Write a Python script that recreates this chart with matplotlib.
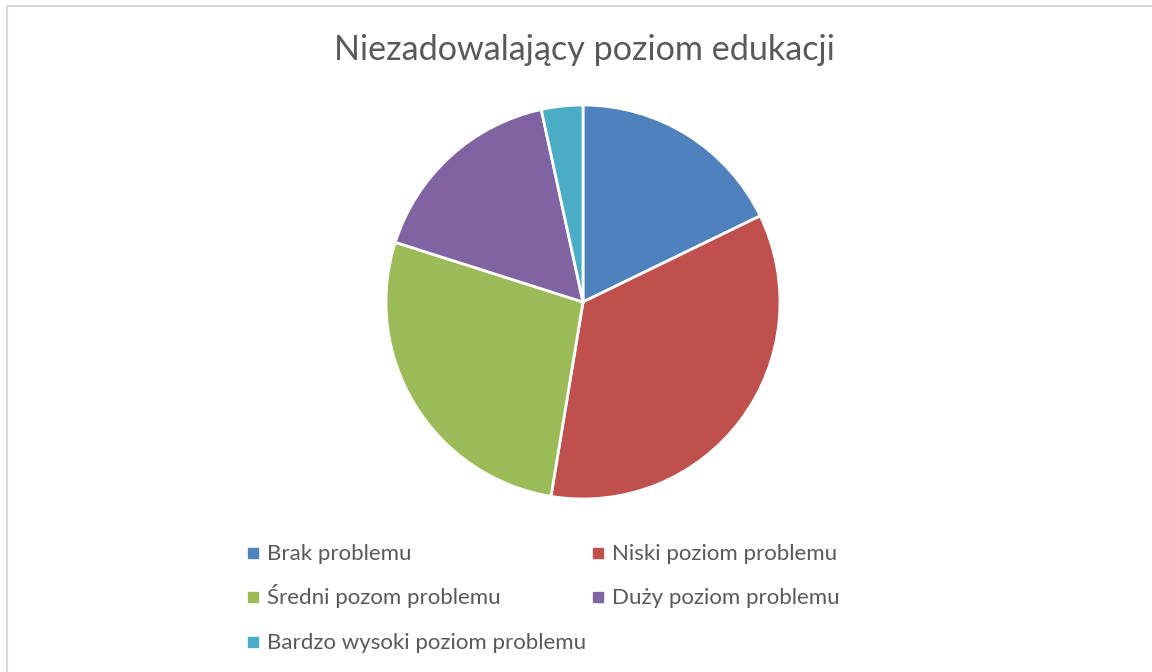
import matplotlib
matplotlib.use("Agg")
import matplotlib.pyplot as plt
from matplotlib.lines import Line2D
from matplotlib.patches import Rectangle

plt.rcParams['font.family'] = ['Lato', 'DejaVu Sans']

title = "Niezadowalający poziom edukacji"
labels = ["Brak problemu", "Niski poziom problemu", "Średni pozom problemu",
          "Duży poziom problemu", "Bardzo wysoki poziom problemu"]
values = [17.8, 34.8, 27.3, 16.7, 3.4]
colors = ["#4F81BD", "#C0504D", "#9BBB59", "#8064A2", "#4BACC6"]
text_color = "#595959"

W, H = 1152, 672
fig = plt.figure(figsize=(W / 100, H / 100), dpi=100)

# light grey chart border (only top/left visible in the reference)
fig.patches.append(Rectangle((6.5 / W, -0.1), 1.2, 1 - 5.5 / H + 0.1,
                             transform=fig.transFigure, fill=False,
                             edgecolor="#D9D9D9", linewidth=1.5))

cx, cy, r = 583, 302, 197
ax = fig.add_axes([(cx - r) / W, 1 - (cy + r) / H, 2 * r / W, 2 * r / H])
wedges, _ = ax.pie(values, colors=colors, startangle=90, counterclock=False,
                   radius=1, wedgeprops=dict(edgecolor="white", linewidth=2))
ax.set_xlim(-1, 1)
ax.set_ylim(-1, 1)
ax.set_aspect("equal")
ax.axis("off")

fig.text(584 / W, 1 - 50 / H, title, ha="center", va="center",
         fontsize=24.6, color=text_color)

# legend laid out row by row, two columns, like the Excel original
for i, (lab, c) in enumerate(zip(labels, colors)):
    row, col = divmod(i, 2)
    x = 253 + col * 345
    base = 560 + row * 44.5
    fig.add_artist(Line2D([x / W], [1 - (base - 7.5) / H], marker="s",
                          linestyle="none", markersize=6.5, markerfacecolor=c,
                          markeredgecolor=c, transform=fig.transFigure))
    fig.text((x + 14) / W, 1 - base / H, lab, ha="left", va="baseline",
             fontsize=16, color=text_color)

plt.savefig("out.png", dpi=100)
